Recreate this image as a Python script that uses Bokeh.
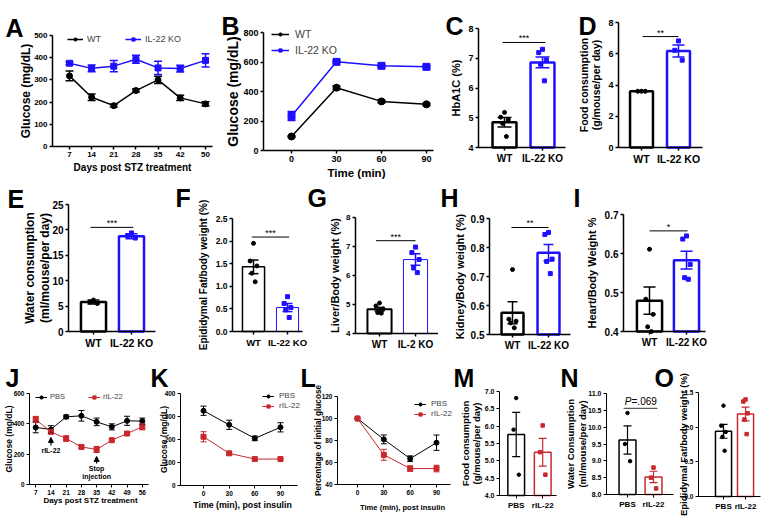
import math
from bokeh.plotting import figure
from bokeh.models import (Range1d, FixedTicker, Label, Legend, LegendItem, Whisker,
                          ColumnDataSource, TeeHead, Arrow, NormalHead, PrintfTickFormatter)
from bokeh.layouts import row, column
from bokeh.embed import file_html
from bokeh.resources import INLINE
from bokeh.core.properties import value

FONT = "Liberation Sans"
BLUE = "#1e10ff"
RED = "#c8282d"
BLACK = "#000000"

# ---------------- data ----------------
# A: glucose after STZ
days_A = [7, 14, 21, 28, 35, 42, 50]
wt_A = [318, 222, 184, 252, 300, 219, 192]
wt_A_err = [22, 15, 6, 7, 16, 12, 10]
ko_A = [375, 352, 362, 393, 354, 351, 388]
ko_A_err = [7, 15, 25, 18, 30, 15, 30]
# B: GTT
time_B = [0, 30, 60, 90]
wt_B = [95, 426, 333, 313]
wt_B_err = [5, 12, 10, 8]
ko_B = [234, 601, 574, 567]
ko_B_err = [30, 6, 6, 8]
# bar panels, WT vs IL-22 KO
geno = ["WT", "IL-22 KO"]
geno_G = ["WT", "IL-2 KO"]
C_mean = [4.85, 6.86]; C_sem = [0.16, 0.18]
C_pts = [[5.18, 5.02, 4.93, 4.81, 4.37], [7.30, 7.19, 6.94, 6.80, 6.24]]
D_mean = [3.60, 6.18]; D_sem = [0.02, 0.38]
D_pts = [[3.60, 3.60, 3.60], [6.82, 6.22, 5.59]]
E_mean = [5.8, 18.75]; E_sem = [0.4, 0.5]
E_pts = [[6.2, 5.8, 5.5], [19.4, 18.9, 18.4]]
F_mean = [1.43, 0.53]; F_sem = [0.15, 0.09]
F_pts = [[1.95, 1.56, 1.45, 1.29, 1.10], [0.77, 0.62, 0.53, 0.48, 0.31]]
G_mean = [4.84, 6.55]; G_sem = [0.06, 0.20]
G_pts = [[5.05, 4.95, 4.85, 4.72, 4.70], [6.98, 6.79, 6.55, 6.26, 6.10]]
H_mean = [0.575, 0.782]; H_sem = [0.038, 0.028]
H_pts = [[0.724, 0.553, 0.546, 0.540, 0.523], [0.852, 0.845, 0.760, 0.752, 0.710]]
I_mean = [0.479, 0.583]; I_sem = [0.035, 0.023]
I_pts = [[0.611, 0.483, 0.444, 0.412, 0.400], [0.645, 0.637, 0.572, 0.538, 0.534]]
sig_C = (7.53, "***"); sig_D = (7.10, "**"); sig_E = (20.5, "***"); sig_F = (2.09, "***")
sig_G = (7.20, "***"); sig_H = (0.869, "**"); sig_I = (0.658, "*")
# J: rIL-22 treatment
days_J = [7, 14, 21, 28, 35, 42, 49, 56]
pbs_J = [376, 363, 446, 453, 413, 380, 420, 418]
pbs_J_err = [35, 25, 12, 35, 25, 20, 30, 20]
ril_J = [429, 347, 303, 248, 231, 292, 336, 380]
ril_J_err = [20, 12, 18, 12, 20, 10, 8, 20]
J_annot_days = [14, 35]
J_arrow_from = [257, 138]
J_arrow_to = [310, 185]
# K: ITT
time_K = [0, 30, 60, 90]
pbs_K = [325, 264, 205, 253]; pbs_K_err = [20, 20, 10, 20]
ril_K = [212, 140, 115, 115]; ril_K_err = [22, 8, 4, 4]
# L: ITT % of initial
time_L = [0, 30, 60, 90]
pbs_L = [100, 81, 63.5, 78]; pbs_L_err = [0, 4, 2.5, 7]
ril_L = [100, 67, 54.5, 54.5]; ril_L_err = [0, 5, 2.5, 3]
# M-O: PBS vs rIL-22
treat = ["PBS", "rIL-22"]
M_mean = [5.76, 5.25]; M_sem = [0.64, 0.40]
M_pts = [[6.81, 5.90, 4.60], [6.02, 5.25, 4.60]]
N_mean = [9.62, 8.52]; N_sem = [0.42, 0.17]
N_pts = [[10.42, 9.50, 8.99], [8.80, 8.50, 8.18]]
N_p = (10.56, "=.069")
O_mean = [0.94, 1.19]; O_sem = [0.10, 0.10]
O_pts = [[1.31, 1.02, 0.93, 0.86, 0.66], [1.40, 1.37, 1.20, 1.11, 0.90]]

# ---------------- layout geometry (screen px) ----------------
# fig x0, x1, y0, y1, axis-box left, right, top, bottom
geom = {
    "A": (0, 220, 0, 180, 52, 212, 35, 146),
    "B": (220, 437, 0, 180, 263, 433, 32, 150),
    "C": (437, 575, 0, 180, 478, 565, 28, 147),
    "D": (575, 763, 0, 180, 618, 702, 22, 147),
    "E": (0, 190, 180, 354, 68, 155, 204, 331),
    "F": (190, 326, 180, 354, 232, 302, 218, 331),
    "G": (326, 438, 180, 354, 355, 438, 217, 333),
    "H": (438, 582, 180, 354, 489, 570, 218, 334),
    "I": (582, 763, 180, 354, 623, 705, 214, 331),
    "J": (0, 150, 354, 520, 29, 148, 393, 484),
    "K": (150, 300, 354, 520, 180, 297, 393, 485),
    "L": (300, 452, 354, 520, 337, 450, 396, 484),
    "M": (452, 557, 354, 520, 499, 556, 391, 495),
    "N": (557, 675, 354, 520, 606, 673, 393, 494),
    "O": (675, 763, 354, 520, 698, 760, 392, 496),
}


def make_fig(key, xa, ya, xticks, yticks, tick_fs, xtick_fs, yfmt=None, xover=None,
             axw=1.5):
    x0, x1, y0, y1, fl, fr, ft, fb = geom[key]
    kx = (xa[1] - xa[0]) / (fr - fl)
    ky = (ya[1] - ya[0]) / (fb - ft)
    xr = (xa[0] - (fl - x0) * kx, xa[1] + (x1 - fr) * kx)
    yr = (ya[0] - (y1 - fb) * ky, ya[1] + (ft - y0) * ky)
    p = figure(width=x1 - x0, height=y1 - y0, min_border=0, min_border_left=0,
               min_border_right=0, min_border_top=0, min_border_bottom=0,
               x_range=Range1d(*xr), y_range=Range1d(*yr),
               output_backend="svg", toolbar_location=None)
    p.title.visible = False
    p.outline_line_color = None
    p.xgrid.visible = False
    p.ygrid.visible = False
    p.xaxis.fixed_location = ya[0]
    p.xaxis.bounds = (xa[0], xa[1])
    p.yaxis.fixed_location = xa[0]
    p.yaxis.bounds = (ya[0], ya[1])
    for ax, fs in ((p.xaxis[0], xtick_fs), (p.yaxis[0], tick_fs)):
        ax.axis_line_width = axw
        ax.axis_line_color = BLACK
        ax.major_tick_line_width = axw
        ax.major_tick_line_color = BLACK
        ax.major_tick_in = 0
        ax.major_tick_out = 3
        ax.minor_tick_line_color = None
        ax.major_label_text_font = FONT
        ax.major_label_text_font_style = "bold"
        ax.major_label_text_font_size = f"{fs}px"
        ax.major_label_text_color = BLACK
        ax.major_label_standoff = 2
    p.xaxis.ticker = FixedTicker(ticks=xticks)
    p.yaxis.ticker = FixedTicker(ticks=yticks)
    if yfmt:
        p.yaxis.formatter = PrintfTickFormatter(format=yfmt)
    if xover:
        p.xaxis.major_label_overrides = xover
    return p


def text_at(p, key, txt, sx, sy, fs, angle=0.0, bold=True, align="center",
            baseline="middle"):
    x0, x1, y0, y1 = geom[key][:4]
    p.add_layout(Label(x=sx - x0, y=y1 - sy, x_units="screen", y_units="screen",
                       text=txt, text_font=FONT,
                       text_font_style="bold" if bold else "normal",
                       text_font_size=f"{fs}px", text_baseline=baseline,
                       text_align=align, text_color=BLACK, angle=angle))


def ylab(p, key, lines, xs, fs):
    g = geom[key]
    cy = (g[6] + g[7]) / 2
    for t, x in zip(lines, xs):
        text_at(p, key, t, x, cy, fs, angle=math.pi / 2)


def xlab(p, key, txt, cx, cy, fs):
    text_at(p, key, txt, cx, cy, fs)


def add_letter(p, key, letter, sx, base, fs=25):
    text_at(p, key, letter, sx, base, fs, align="left", baseline="alphabetic")


def whisk(p, xs, ys, es, color, lw, cap):
    src = ColumnDataSource(dict(base=xs, upper=[a + b for a, b in zip(ys, es)],
                                lower=[a - b for a, b in zip(ys, es)]))
    w = Whisker(source=src, base="base", upper="upper", lower="lower",
                line_color=color, line_width=lw,
                upper_head=TeeHead(size=cap, line_color=color, line_width=lw),
                lower_head=TeeHead(size=cap, line_color=color, line_width=lw))
    w.level = "overlay"
    p.add_layout(w)


def series(p, xs, ys, es, color, marker, size, lw, cap):
    rl = p.line(xs, ys, line_color=color, line_width=lw)
    whisk(p, xs, ys, es, color, lw, cap)
    rs = p.scatter(xs, ys, marker=marker, size=size, fill_color=color, line_color=color)
    return [rl, rs]


def legend(p, key, items, sx, sbottom, orient, fs, gw, spacing, standoff=4):
    x0, x1, y0, y1 = geom[key][:4]
    lg = Legend(items=[LegendItem(label=t, renderers=r) for t, r in items],
                location=(sx - x0, y1 - sbottom), orientation=orient,
                background_fill_alpha=0, border_line_alpha=0,
                label_text_font=FONT, label_text_font_size=f"{fs}px",
                glyph_width=gw, glyph_height=8, label_height=8, spacing=spacing,
                label_standoff=standoff, padding=0, margin=0)
    p.add_layout(lg)


JIT = [0.0, -0.1, 0.1, -0.05, 0.05]


def bars(p, means, sems, pts, colors, markers, bw, lws, cap, base, psize, elw=1.5):
    xs = list(range(len(means)))
    p.vbar(x=xs, top=means, bottom=base, width=bw, fill_color="white",
           line_color=colors, line_width=lws)
    for i, vals in enumerate(pts):
        offs = [i + JIT[k] for k in range(len(vals))]
        p.scatter(offs, vals, marker=markers[i], size=psize, color=colors[i])
    for i in xs:
        whisk(p, [i], [means[i]], [sems[i]], colors[i], elw, cap)


def sig(p, y, txt, fs=9, x0=-0.05, x1=1.05):
    p.segment(x0=[x0], y0=[y], x1=[x1], y1=[y], line_color=BLACK, line_width=1)
    p.text(x=[(x0 + x1) / 2], y=[y], text=[txt], text_font=value(FONT),
           text_font_size=f"{fs}px", text_align="center", text_baseline="bottom",
           text_color=BLACK, y_offset=1)


# ---------------- Row 1 ----------------
pA = make_fig("A", (1.63, 52.21), (0, 500), days_A, [0, 100, 200, 300, 400, 500], 8, 8)
rA1 = series(pA, days_A, wt_A, wt_A_err, BLACK, "circle", 6, 1.5, 8)
rA2 = series(pA, days_A, ko_A, ko_A_err, BLUE, "square", 6, 1.5, 8)
legend(pA, "A", [("WT", rA1), ("IL-22 KO", rA2)], 67, 44, "horizontal", 9, 16, 18)
ylab(pA, "A", ["Glucose (mg/dL)"], [25], 12)
xlab(pA, "A", "Days post STZ treatment", 132, 167, 10)
add_letter(pA, "A", "A", 5, 27)

pB = make_fig("B", (-18.7, 94.7), (0, 800), time_B, [0, 200, 400, 600, 800], 9, 9)
rB1 = series(pB, time_B, wt_B, wt_B_err, BLACK, "circle", 7, 1.5, 8)
rB2 = series(pB, time_B, ko_B, ko_B_err, BLUE, "square", 7, 1.5, 8)
legend(pB, "B", [("WT", rB1), ("IL-22 KO", rB2)], 271, 56, "vertical", 10.5, 18, 4, 6)
ylab(pB, "B", ["Glucose (mg/dL)"], [232], 14)
xlab(pB, "B", "Time (min)", 356, 172, 11.5)
add_letter(pB, "B", "B", 221, 25)

pC = make_fig("C", (-0.684, 1.605), (4, 8), [0, 1], [4, 5, 6, 7, 8], 9, 10,
              xover={0: geno[0], 1: geno[1]})
bars(pC, C_mean, C_sem, C_pts, [BLACK, BLUE], ["circle", "square"], 0.63, 2.5, 14, 4, 4)
sig(pC, sig_C[0], sig_C[1], x1=1.08)
ylab(pC, "C", ["HbA1C (%)"], [455], 11)
add_letter(pC, "C", "C", 445, 25)

pD = make_fig("D", (-0.622, 1.649), (0, 8), [0, 1], [0, 2, 4, 6, 8], 9, 10.5,
              xover={0: geno[0], 1: geno[1]})
bars(pD, D_mean, D_sem, D_pts, [BLACK, BLUE], ["circle", "square"], 0.62, 2.5, 12, 0, 4)
sig(pD, sig_D[0], sig_D[1], x0=0.03, x1=1.0)
ylab(pD, "D", ["Food consumption", "(g/mouse/per day)"], [583, 595], 10.5)
add_letter(pD, "D", "D", 578, 25)

# ---------------- Row 2 ----------------
pE = make_fig("E", (-0.658, 1.632), (0, 25), [0, 1], [0, 5, 10, 15, 20, 25], 10, 10.5,
              xover={0: geno[0], 1: geno[1]})
bars(pE, E_mean, E_sem, E_pts, [BLACK, BLUE], ["circle", "square"], 0.66, 2.5, 12, 0, 4)
sig(pE, sig_E[0], sig_E[1], x0=-0.08, x1=1.05)
ylab(pE, "E", ["Water consumption", "(ml/mouse/per day)"], [29, 44], 12)
add_letter(pE, "E", "E", 7, 198)
add_letter(pE, "E", "F", 175, 197)

pF = make_fig("F", (-0.618, 1.441), (0, 2.5), [0, 1], [0, 0.5, 1.0, 1.5, 2.0, 2.5], 8.5, 9.5,
              yfmt="%.1f", xover={0: geno[0], 1: geno[1]})
bars(pF, F_mean, F_sem, F_pts, [BLACK, BLUE], ["circle", "square"], 0.65, [1.5, 1], 10, 0, 4)
sig(pF, sig_F[0], sig_F[1])
ylab(pF, "F", ["Epididymal Fat/body weight (%)"], [203], 10)
add_letter(pF, "F", "G", 307, 197)

pG = make_fig("G", (-0.667, 1.639), (4, 8), [0, 1], [4, 5, 6, 7, 8], 8, 10,
              xover={0: geno_G[0], 1: geno_G[1]})
bars(pG, G_mean, G_sem, G_pts, [BLACK, BLUE], ["circle", "square"], 0.67, [2, 1], 10, 4, 4)
sig(pG, sig_G[0], sig_G[1], x0=-0.1, x1=1.0)
ylab(pG, "G", ["Liver/Body weight (%)"], [334], 11)

pH = make_fig("H", (-0.639, 1.611), (0.5, 0.9), [0, 1], [0.5, 0.6, 0.7, 0.8, 0.9], 10, 10,
              yfmt="%.1f", xover={0: geno[0], 1: geno[1]})
bars(pH, H_mean, H_sem, H_pts, [BLACK, BLUE], ["circle", "square"], 0.61, 2.5, 10, 0.5, 4)
sig(pH, sig_H[0], sig_H[1], x0=-0.03, x1=1.0)
ylab(pH, "H", ["Kidney/Body weight (%)"], [459], 11)
add_letter(pH, "H", "H", 440, 197)
add_letter(pH, "H", "I", 573, 197)

pI = make_fig("I", (-0.703, 1.514), (0.4, 0.7), [0, 1], [0.4, 0.5, 0.6, 0.7], 10, 10,
              yfmt="%.1f", xover={0: geno[0], 1: geno[1]})
bars(pI, I_mean, I_sem, I_pts, [BLACK, BLUE], ["circle", "square"], 0.68, 2.5, 12, 0.4, 4)
sig(pI, sig_I[0], sig_I[1], x0=0.0, x1=1.03)
ylab(pI, "I", ["Heart/Body Weight %"], [591], 11)

# ---------------- Row 3 ----------------
pJ = make_fig("J", (4.146, 58.85), (0, 600), days_J, [0, 200, 400, 600], 6.5, 6.5, axw=1)
rJ1 = series(pJ, days_J, pbs_J, pbs_J_err, BLACK, "circle", 5, 1, 6)
rJ2 = series(pJ, days_J, ril_J, ril_J_err, RED, "square", 5, 1, 6)
legend(pJ, "J", [("PBS", rJ1), ("rIL-22", rJ2)], 35, 401, "horizontal", 7.5, 12, 18, 3)
for d, a0, a1 in zip(J_annot_days, J_arrow_from, J_arrow_to):
    pJ.add_layout(Arrow(end=NormalHead(size=5, fill_color=BLACK, line_color=BLACK),
                        x_start=d, y_start=a0, x_end=d, y_end=a1,
                        line_color=BLACK, line_width=1.2))
pJ.text(x=[J_annot_days[0], J_annot_days[1], J_annot_days[1]],
        y=[J_arrow_from[0] - 10, J_arrow_from[1] - 10, J_arrow_from[1] - 62],
        text=["rIL-22", "Stop", "injection"], text_font=value(FONT),
        text_font_size="7px", text_font_style="bold", text_align="center",
        text_baseline="top", text_color=BLACK)
ylab(pJ, "J", ["Glucose (mg/dL)"], [8], 8.5)
xlab(pJ, "J", "Days post STZ treatment", 90, 500, 8)
add_letter(pJ, "J", "J", 5, 377)

pK = make_fig("K", (-26.9, 109.9), (0, 400), time_K, [0, 100, 200, 300, 400], 6.5, 6.5, axw=1)
rK1 = series(pK, time_K, pbs_K, pbs_K_err, BLACK, "circle", 5, 1, 6)
rK2 = series(pK, time_K, ril_K, ril_K_err, RED, "square", 5, 1, 6)
legend(pK, "K", [("PBS", rK1), ("rIL-22", rK2)], 262, 410, "vertical", 8, 12, 1, 5)
ylab(pK, "K", ["Glucose (mg/dL)"], [163], 8.5)
xlab(pK, "K", "Time (min), post insulin", 242, 504, 8.8)
add_letter(pK, "K", "K", 150, 377)

pL = make_fig("L", (-22.8, 105.95), (40, 120), time_L, [40, 60, 80, 100, 120], 6.5, 6.5, axw=1)
rL1 = series(pL, time_L, pbs_L, pbs_L_err, BLACK, "circle", 5, 1, 6)
rL2 = series(pL, time_L, ril_L, ril_L_err, RED, "square", 5, 1, 6)
legend(pL, "L", [("PBS", rL1), ("rIL-22", rL2)], 414, 418, "vertical", 8, 12, 1, 5)
ylab(pL, "L", ["Percentage of initial glucose"], [318], 8.2)
xlab(pL, "L", "Time (min), post insulin", 402, 507, 7.6)
add_letter(pL, "L", "L", 300, 377)

pM = make_fig("M", (-0.63, 1.52), (4, 7), [0, 1], [4.0, 4.5, 5.0, 5.5, 6.0, 6.5, 7.0], 7, 8,
              yfmt="%.1f", xover={0: treat[0], 1: treat[1]}, axw=1)
bars(pM, M_mean, M_sem, M_pts, [BLACK, RED], ["circle", "square"], 0.63, 1.5, 8, 4, 3.5, 1.2)
ylab(pM, "M", ["Food consumption", "(g/mouse/per day)"], [465, 476], 9.5)
add_letter(pM, "M", "M", 453, 377)

pN = make_fig("N", (-0.808, 1.769), (8, 11), [0, 1], [8.0, 8.5, 9.0, 9.5, 10.0, 10.5, 11.0],
              7, 8, yfmt="%.1f", xover={0: treat[0], 1: treat[1]}, axw=1)
bars(pN, N_mean, N_sem, N_pts, [BLACK, RED], ["circle", "square"], 0.65, 1.5, 8, 8, 3.5, 1.2)
pN.segment(x0=[-0.15], y0=[N_p[0]], x1=[1.15], y1=[N_p[0]], line_color=BLACK, line_width=0.8)
pN.text(x=[0.5], y=[N_p[0]], text=["P"], text_font=value(FONT), text_font_size="10px",
        text_font_style="italic", text_align="right", text_baseline="bottom",
        x_offset=-9, y_offset=-1, text_color=BLACK)
pN.text(x=[0.5], y=[N_p[0]], text=[N_p[1]], text_font=value(FONT), text_font_size="10px",
        text_align="left", text_baseline="bottom", x_offset=-9, y_offset=-1,
        text_color=BLACK)
ylab(pN, "N", ["Water Consumption", "(ml/mouse/per day)"], [570, 582], 9.5)
add_letter(pN, "N", "N", 560, 377)
add_letter(pN, "N", "O", 654, 377)

pO = make_fig("O", (-1.136, 1.68), (0, 1.5), [0, 1], [0.0, 0.5, 1.0, 1.5], 6.5, 8,
              yfmt="%.1f", xover={0: treat[0], 1: treat[1]}, axw=1)
bars(pO, O_mean, O_sem, O_pts, [BLACK, RED], ["circle", "square"], 0.73, 1.5, 8, 0, 3.5, 1.2)
ylab(pO, "O", ["Epididymal Fat/body weight (%)"], [683], 9.5)

layout = column(row(pA, pB, pC, pD, spacing=0),
                row(pE, pF, pG, pH, pI, spacing=0),
                row(pJ, pK, pL, pM, pN, pO, spacing=0), spacing=0)

open("out.html", "w").write(file_html(layout, INLINE))
